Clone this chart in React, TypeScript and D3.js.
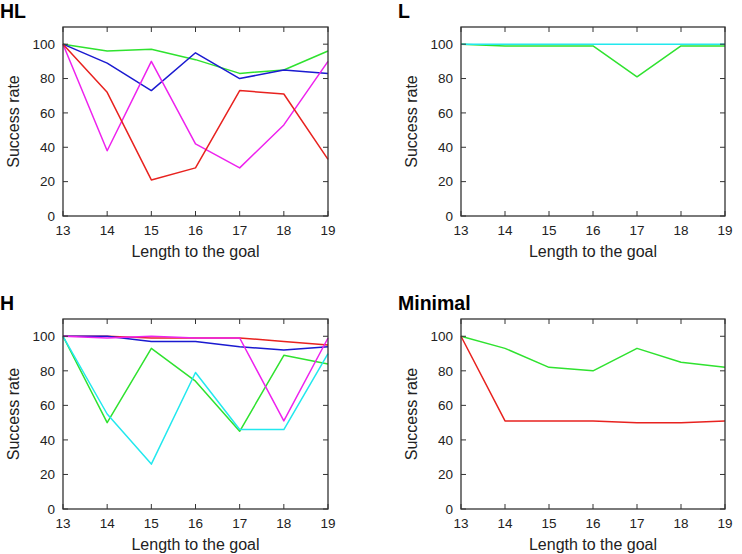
import * as d3 from 'd3';

const lengths = [13, 14, 15, 16, 17, 18, 19];
const yTicks = [0, 20, 40, 60, 80, 100];

// HL panel
const hlGreen = [100, 96, 97, 91, 83, 85, 96];
const hlBlue = [100, 89, 73, 95, 80, 85, 83];
const hlMagenta = [100, 38, 90, 42, 28, 53, 90];
const hlRed = [100, 72, 21, 28, 73, 71, 33];

// L panel
const lGreen = [100, 99, 99, 99, 81, 99, 99];
const lCyan = [100, 100, 100, 100, 100, 100, 100];

// H panel
const hRed = [100, 100, 99, 99, 99, 97, 95];
const hBlue = [100, 100, 97, 97, 94, 92, 94];
const hMagenta = [100, 99, 100, 99, 99, 51, 99];
const hGreen = [100, 50, 93, 74, 45, 89, 84];
const hCyan = [100, 55, 26, 79, 46, 46, 90];

// Minimal panel
const minGreen = [100, 93, 82, 80, 93, 85, 82];
const minRed = [100, 51, 51, 51, 50, 50, 51];

const RED = '#e8221f';
const GREEN = '#2fe22f';
const BLUE = '#1a1ad0';
const MAGENTA = '#ee22ee';
const CYAN = '#22e8ee';

interface Series {
  values: number[];
  color: string;
}

interface PanelProps {
  title: string;
  left: number;
  right: number;
  top: number;
  bottom: number;
  series: Series[];
}

const FONT = '"Liberation Sans", Arial, sans-serif';
const AXIS = '#333';

function Panel({ title, left, right, top, bottom, series }: PanelProps) {
  const x = d3.scaleLinear().domain([13, 19]).range([left, right]);
  const y = d3.scaleLinear().domain([0, 110]).range([bottom, top]);
  const line = d3.line<number>()
    .x((_, i) => x(lengths[i]))
    .y(d => y(d));
  const tick = 5;
  const cx = (left + right) / 2;
  const cy = (top + bottom) / 2;

  return (
    <g>
      <text x={left - 63} y={top - 9} fontFamily={FONT} fontSize={19.5} fontWeight="bold" fill="#000">
        {title}
      </text>
      <g>
        {series.map((s, i) => (
          <path key={i} d={line(s.values) ?? ''} fill="none" stroke={s.color} strokeWidth={1.5} strokeLinejoin="round" />
        ))}
      </g>
      <rect x={left} y={top} width={right - left} height={bottom - top} fill="none" stroke={AXIS} strokeWidth={1.3} />
      {lengths.map(v => (
        <g key={v}>
          <line x1={x(v)} x2={x(v)} y1={bottom} y2={bottom - tick} stroke={AXIS} />
          <line x1={x(v)} x2={x(v)} y1={top} y2={top + tick} stroke={AXIS} />
          <text x={x(v)} y={bottom + 19} textAnchor="middle" fontFamily={FONT} fontSize={13.5} fill="#222">
            {v}
          </text>
        </g>
      ))}
      {yTicks.map(v => (
        <g key={v}>
          <line x1={left} x2={left + tick} y1={y(v)} y2={y(v)} stroke={AXIS} />
          <line x1={right} x2={right - tick} y1={y(v)} y2={y(v)} stroke={AXIS} />
          <text x={left - 8} y={y(v) + 4.8} textAnchor="end" fontFamily={FONT} fontSize={13.5} fill="#222">
            {v}
          </text>
        </g>
      ))}
      <text x={cx} y={bottom + 41} textAnchor="middle" fontFamily={FONT} fontSize={16} fill="#222">
        Length to the goal
      </text>
      <text
        transform={`translate(${left - 44},${cy}) rotate(-90)`}
        textAnchor="middle"
        fontFamily={FONT}
        fontSize={16}
        fill="#222"
      >
        Success rate
      </text>
    </g>
  );
}

export default function App() {
  return (
    <svg width={742} height={554} style={{ position: 'absolute', left: 0, top: 0, background: '#fff' }}>
      <rect width={742} height={554} fill="#fff" />
      <Panel
        title="HL"
        left={63}
        right={328}
        top={27}
        bottom={216}
        series={[
          { values: hlGreen, color: GREEN },
          { values: hlBlue, color: BLUE },
          { values: hlMagenta, color: MAGENTA },
          { values: hlRed, color: RED },
        ]}
      />
      <Panel
        title="L"
        left={461}
        right={725}
        top={27}
        bottom={216}
        series={[
          { values: lGreen, color: GREEN },
          { values: lCyan, color: CYAN },
        ]}
      />
      <Panel
        title="H"
        left={63}
        right={328}
        top={319}
        bottom={509}
        series={[
          { values: hRed, color: RED },
          { values: hBlue, color: BLUE },
          { values: hGreen, color: GREEN },
          { values: hCyan, color: CYAN },
          { values: hMagenta, color: MAGENTA },
        ]}
      />
      <Panel
        title="Minimal"
        left={461}
        right={725}
        top={319}
        bottom={509}
        series={[
          { values: minGreen, color: GREEN },
          { values: minRed, color: RED },
        ]}
      />
    </svg>
  );
}
